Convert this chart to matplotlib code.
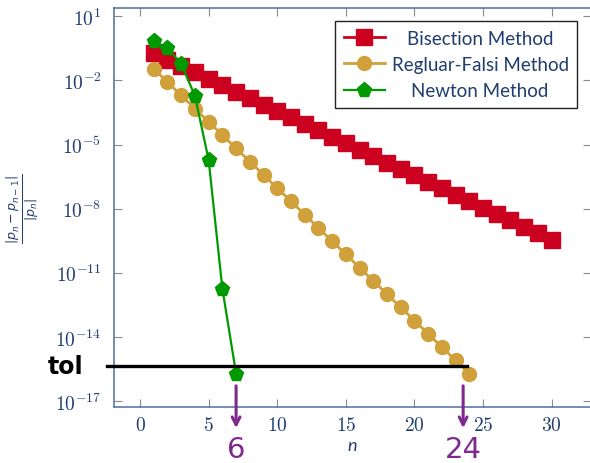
import numpy as np
import matplotlib
matplotlib.use('Agg')
import matplotlib.pyplot as plt

plt.rcParams['mathtext.fontset'] = 'cm'

# relative change |p_n - p_{n-1}| / |p_n|
n_bis = list(range(1, 31))
bisection = [1.9e-1, 9.5e-2, 4.7e-2, 2.4e-2, 1.2e-2, 5.9e-3, 3.0e-3, 1.5e-3,
             7.4e-4, 3.7e-4, 1.9e-4, 9.3e-5, 4.6e-5, 2.3e-5, 1.2e-5, 5.8e-6,
             2.9e-6, 1.4e-6, 7.2e-7, 3.6e-7, 1.8e-7, 9.0e-8, 4.5e-8, 2.3e-8,
             1.1e-8, 5.6e-9, 2.8e-9, 1.4e-9, 7.0e-10, 3.5e-10]

n_rf = list(range(1, 25))
regula_falsi = [3.5e-2, 8.3e-3, 2.0e-3, 4.8e-4, 1.15e-4, 2.8e-5, 6.6e-6, 1.6e-6,
                3.8e-7, 9.2e-8, 2.2e-8, 5.3e-9, 1.26e-9, 3.0e-10, 7.3e-11, 1.75e-11,
                4.2e-12, 1.0e-12, 2.4e-13, 5.8e-14, 1.4e-14, 3.3e-15, 8.0e-16, 1.9e-16]

n_newton = [1, 2, 3, 4, 5, 6, 7]
newton = [6.8e-1, 3.3e-1, 5.9e-2, 1.9e-3, 1.9e-6, 1.8e-12, 1.9e-16]

tol = 4.5e-16
labels = ['Bisection Method', 'Regluar-Falsi Method', 'Newton Method']

navy = '#1f3d6e'
spine_col = '#4e6d98'
purple = '#7d2a8c'

fig = plt.figure(figsize=(5.9, 4.64), dpi=100)
ax = fig.add_axes([0.1932, 0.1207, 0.8092, 0.86])

ax.plot(n_bis, bisection, color='#cc001f', marker='s', markersize=11, lw=2, label=labels[0])
ax.plot(n_rf, regula_falsi, color='#d0a03a', marker='o', markersize=10, lw=2, label=labels[1])
ax.plot(n_newton, newton, color='#009a00', marker='p', markersize=11, lw=1.6, label=labels[2])

ax.set_yscale('log')
ax.set_xlim(-1.9, 32.9)
ax.set_ylim(10 ** -17.28, 10 ** 1.39)
ax.set_xticks([0, 5, 10, 15, 20, 25, 30])
ax.set_xticklabels([f'${v}$' for v in [0, 5, 10, 15, 20, 25, 30]])
yt = [10.0 ** e for e in range(1, -18, -3)]
ax.set_yticks(yt)
ax.set_yticklabels([f'$10^{{{e}}}$' for e in range(1, -18, -3)])
ax.yaxis.set_minor_locator(matplotlib.ticker.NullLocator())

ax.tick_params(direction='in', length=6, width=0.8, color='#8a8a8a',
               labelsize=14, labelcolor=navy, top=True, right=True)
ax.tick_params(axis='x', pad=6)
ax.tick_params(axis='y', pad=9)
for s in ax.spines.values():
    s.set_color(spine_col)
    s.set_linewidth(1.1)

ax.set_xlabel('n', fontsize=13, color=navy, family='Lato', style='italic', labelpad=2)
ax.set_ylabel(r'$\frac{|p_n-p_{n-1}|}{|p_n|}$', fontsize=13, color=navy,
              math_fontfamily='dejavusans', labelpad=10)

# tolerance line and hand-drawn marks
ax.plot([-2.4, 23.83], [tol, tol], color='black', lw=2.4, clip_on=False, zorder=5)
ax.text(-5.4, tol, 'tol', fontsize=17, fontweight='bold', family='DejaVu Sans',
        ha='center', va='center', color='black')
tr = ax.get_xaxis_transform()
for xv, txt in [(7.0, '6'), (23.55, '24')]:
    ax.annotate('', xy=(xv, -0.06), xytext=(xv, 0.06), xycoords=tr, textcoords=tr,
                arrowprops=dict(arrowstyle='->', color=purple, lw=2.2,
                                mutation_scale=14), annotation_clip=False)
    ax.text(xv, -0.105, txt, transform=tr, fontsize=21, color=purple,
            ha='center', va='center', family='DejaVu Sans')

leg = ax.legend(loc='upper right', bbox_to_anchor=(0.970, 0.967), borderaxespad=0,
                fancybox=False, framealpha=1, edgecolor='#222222',
                prop={'family': 'Lato', 'size': 13.5}, handlelength=2.2,
                handletextpad=0.35, labelspacing=0.5, borderpad=0.45)
leg.get_frame().set_linewidth(1.0)
for t in leg.get_texts():
    t.set_color(navy)

fig.canvas.draw()
widths = [t.get_window_extent().width for t in leg.get_texts()]
wmax = max(widths)
for t, w in zip(leg.get_texts(), widths):
    t.set_x((wmax - w) / 2)

fig.savefig('out.png', dpi=100)
